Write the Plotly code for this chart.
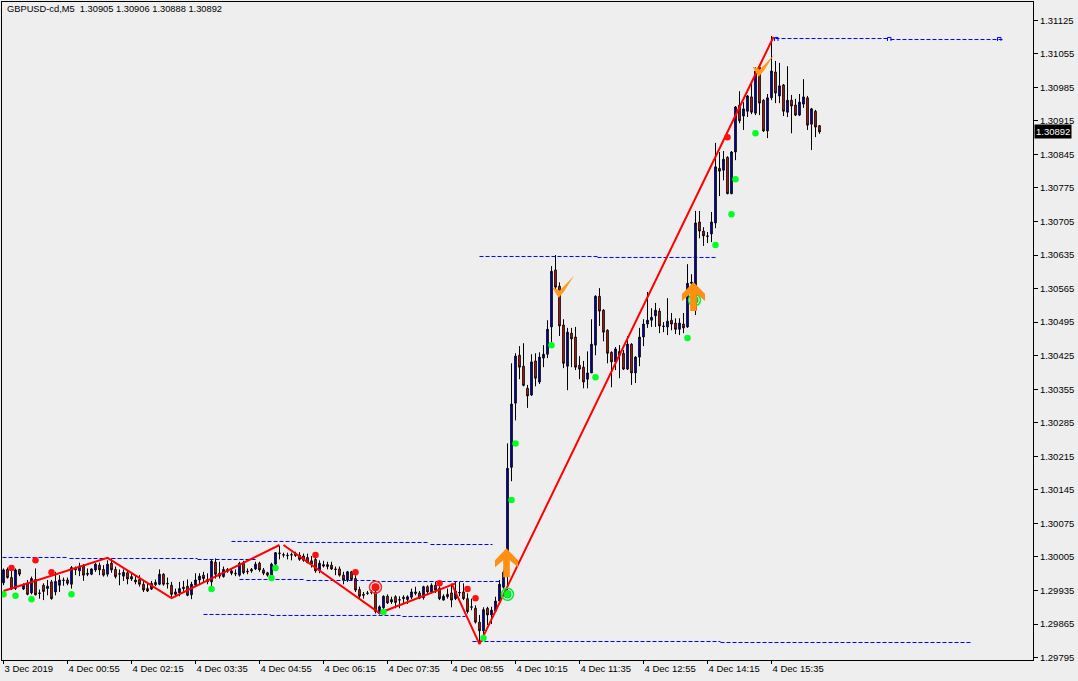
import plotly.graph_objects as go

# ---------- candles (price) ----------
opens = [
1.29951,1.29979,1.29962,1.29939,1.29979,1.29938,1.29950,1.29930,1.29958,1.29930,
1.29946,1.29939,1.29953,1.29932,1.29946,1.29957,1.29957,1.29948,1.29982,1.29976,
1.29986,1.29971,1.29969,1.29978,1.29988,1.29979,1.29969,1.29992,1.29979,1.29969,
1.29965,1.29972,1.29964,1.29957,1.29958,1.29948,1.29939,1.29938,1.29952,1.29948,
1.29969,1.29950,1.29946,1.29932,1.29930,1.29942,1.29944,1.29926,1.29946,1.29957,
1.29967,1.29958,1.29953,1.29994,1.29971,1.29964,1.29979,1.29976,1.29971,1.29967,
1.29992,1.29974,1.29979,1.29980,1.29992,1.29978,1.29972,1.29967,1.29990,1.30012,
1.30010,1.30009,1.30010,1.30012,1.30009,1.30007,1.30004,1.29997,1.30000,1.29978,
1.29989,1.29989,1.29988,1.29980,1.29980,1.29967,1.29957,1.29974,1.29960,1.29937,
1.29927,1.29930,1.29932,1.29932,1.29887,1.29899,1.29923,1.29911,1.29922,1.29916,
1.29921,1.29916,1.29921,1.29932,1.29930,1.29920,1.29943,1.29932,1.29946,1.29940,
1.29915,1.29927,1.29930,1.29918,1.29930,1.29932,1.29918,1.29900,1.29898,1.29869,
1.29851,1.29898,1.29884,1.29892,1.29913,1.29942,1.29967,1.30192,1.30326,1.30426,
1.30403,1.30357,1.30343,1.30414,1.30370,1.30420,1.30428,1.30485,1.30604,1.30570,
1.30489,1.30403,1.30472,1.30464,1.30405,1.30401,1.30376,1.30389,1.30447,1.30549,
1.30520,1.30478,1.30432,1.30412,1.30426,1.30430,1.30397,1.30449,1.30389,1.30422,
1.30464,1.30491,1.30499,1.30508,1.30518,1.30487,1.30485,1.30499,1.30493,1.30480,
1.30491,1.30485,1.30576,1.30520,1.30704,1.30685,1.30675,1.30679,1.30702,1.30816,
1.30812,1.30839,1.30763,1.30850,1.30948,1.30925,1.30935,1.30965,1.30931,1.31027,
1.30958,1.30894,1.30963,1.31017,1.30967,1.30990,1.30933,1.30958,1.30948,1.30927,
1.30950,1.30963,1.30908,1.30935,1.30905]
highs = [
1.29981,1.29983,1.29981,1.29981,1.29980,1.29950,1.29957,1.29964,1.29981,1.29937,
1.29950,1.29957,1.29957,1.29974,1.29967,1.29962,1.29962,1.29986,1.29985,1.29993,
1.29990,1.29981,1.29981,1.29993,1.29993,1.29988,1.29998,1.30002,1.29985,1.29979,
1.29979,1.29978,1.29972,1.29967,1.29967,1.29957,1.29950,1.29955,1.29958,1.29979,
1.29971,1.29962,1.29953,1.29939,1.29953,1.29955,1.29958,1.29953,1.29971,1.29971,
1.29974,1.29971,1.30000,1.30002,1.29995,1.29985,1.29982,1.29981,1.29979,1.29995,
1.29997,1.29981,1.29982,1.29995,1.29995,1.29982,1.29974,1.29993,1.30015,1.30028,
1.30014,1.30014,1.30014,1.30016,1.30015,1.30012,1.30012,1.30007,1.30007,1.29998,
1.29997,1.29995,1.29995,1.29985,1.29985,1.29974,1.29976,1.29976,1.29967,1.29943,
1.29932,1.29934,1.29936,1.29939,1.29904,1.29925,1.29927,1.29922,1.29925,1.29923,
1.29925,1.29925,1.29939,1.29943,1.29934,1.29945,1.29946,1.29950,1.29953,1.29944,
1.29927,1.29939,1.29946,1.29953,1.29953,1.29950,1.29929,1.29918,1.29904,1.29884,
1.29900,1.29901,1.29901,1.29922,1.29957,1.29978,1.30242,1.30409,1.30430,1.30445,
1.30451,1.30364,1.30428,1.30430,1.30432,1.30447,1.30499,1.30612,1.30635,1.30578,
1.30501,1.30483,1.30483,1.30485,1.30424,1.30414,1.30434,1.30501,1.30551,1.30566,
1.30522,1.30480,1.30434,1.30443,1.30447,1.30437,1.30466,1.30451,1.30424,1.30483,
1.30501,1.30558,1.30524,1.30535,1.30524,1.30495,1.30545,1.30514,1.30503,1.30503,
1.30514,1.30616,1.30595,1.30727,1.30727,1.30693,1.30683,1.30725,1.30869,1.30850,
1.30852,1.30841,1.30852,1.30946,1.30977,1.30954,1.30969,1.30994,1.31027,1.31029,
1.30960,1.30971,1.31092,1.31040,1.31036,1.30992,1.31029,1.30969,1.30961,1.30971,
1.31002,1.30967,1.30942,1.30938,1.30906]
lows = [
1.29946,1.29960,1.29936,1.29936,1.29965,1.29936,1.29925,1.29927,1.29925,1.29918,
1.29915,1.29925,1.29916,1.29925,1.29932,1.29945,1.29946,1.29939,1.29967,1.29965,
1.29955,1.29965,1.29967,1.29974,1.29967,1.29964,1.29964,1.29972,1.29960,1.29946,
1.29955,1.29948,1.29955,1.29948,1.29943,1.29932,1.29932,1.29936,1.29944,1.29946,
1.29945,1.29939,1.29921,1.29921,1.29923,1.29932,1.29923,1.29917,1.29943,1.29948,
1.29951,1.29948,1.29944,1.29960,1.29960,1.29962,1.29972,1.29967,1.29965,1.29964,
1.29969,1.29969,1.29972,1.29978,1.29974,1.29967,1.29964,1.29964,1.29985,1.30000,
1.30004,1.30000,1.29998,1.30005,1.29997,1.29995,1.29992,1.29983,1.29972,1.29971,
1.29983,1.29979,1.29978,1.29967,1.29964,1.29948,1.29953,1.29955,1.29932,1.29918,
1.29918,1.29926,1.29927,1.29887,1.29885,1.29894,1.29907,1.29907,1.29898,1.29898,
1.29908,1.29907,1.29917,1.29925,1.29917,1.29916,1.29927,1.29929,1.29930,1.29915,
1.29914,1.29918,1.29900,1.29915,1.29923,1.29915,1.29887,1.29894,1.29866,1.29828,
1.29842,1.29863,1.29865,1.29892,1.29908,1.29939,1.29936,1.30163,1.30290,1.30376,
1.30361,1.30316,1.30341,1.30361,1.30366,1.30401,1.30420,1.30451,1.30558,1.30466,
1.30399,1.30353,1.30401,1.30395,1.30376,1.30357,1.30357,1.30389,1.30426,1.30487,
1.30455,1.30409,1.30359,1.30395,1.30378,1.30395,1.30395,1.30364,1.30368,1.30403,
1.30445,1.30483,1.30485,1.30485,1.30472,1.30474,1.30468,1.30478,1.30470,1.30468,
1.30472,1.30483,1.30558,1.30510,1.30670,1.30654,1.30660,1.30662,1.30691,1.30758,
1.30791,1.30762,1.30762,1.30833,1.30910,1.30896,1.30923,1.30929,1.30927,1.30927,
1.30892,1.30879,1.30958,1.30952,1.30952,1.30925,1.30923,1.30889,1.30925,1.30925,
1.30942,1.30896,1.30854,1.30881,1.30888]
closes = [
1.29978,1.29962,1.29938,1.29978,1.29969,1.29946,1.29927,1.29960,1.29926,1.29929,
1.29933,1.29944,1.29918,1.29954,1.29957,1.29956,1.29950,1.29983,1.29978,1.29986,
1.29967,1.29969,1.29980,1.29990,1.29978,1.29967,1.29990,1.29978,1.29964,1.29970,
1.29973,1.29959,1.29959,1.29953,1.29948,1.29936,1.29934,1.29950,1.29947,1.29969,
1.29948,1.29949,1.29927,1.29927,1.29939,1.29939,1.29925,1.29948,1.29957,1.29965,
1.29960,1.29953,1.29996,1.29969,1.29965,1.29979,1.29975,1.29971,1.29970,1.29992,
1.29972,1.29975,1.29976,1.29990,1.29978,1.29971,1.29967,1.29990,1.30014,1.30013,
1.30009,1.30008,1.30009,1.30008,1.30000,1.29998,1.29993,1.29990,1.29976,1.29992,
1.29986,1.29985,1.29980,1.29979,1.29967,1.29957,1.29974,1.29958,1.29936,1.29923,
1.29925,1.29929,1.29931,1.29891,1.29901,1.29923,1.29909,1.29916,1.29910,1.29915,
1.29918,1.29922,1.29932,1.29929,1.29919,1.29943,1.29932,1.29946,1.29936,1.29918,
1.29923,1.29922,1.29915,1.29934,1.29931,1.29918,1.29891,1.29901,1.29869,1.29851,
1.29895,1.29884,1.29894,1.29913,1.29948,1.29973,1.30190,1.30324,1.30424,1.30401,
1.30363,1.30341,1.30412,1.30378,1.30422,1.30428,1.30480,1.30601,1.30568,1.30487,
1.30409,1.30474,1.30460,1.30401,1.30397,1.30370,1.30389,1.30449,1.30549,1.30518,
1.30474,1.30430,1.30412,1.30439,1.30434,1.30397,1.30449,1.30389,1.30422,1.30464,
1.30491,1.30499,1.30505,1.30520,1.30487,1.30486,1.30497,1.30491,1.30480,1.30493,
1.30483,1.30576,1.30578,1.30702,1.30685,1.30675,1.30674,1.30704,1.30819,1.30810,
1.30835,1.30763,1.30850,1.30944,1.30915,1.30940,1.30967,1.30933,1.31019,1.30952,
1.30894,1.30963,1.31019,1.30973,1.30988,1.30935,1.30958,1.30946,1.30927,1.30954,
1.30965,1.30906,1.30940,1.30902,1.30892]
bar_index = list(range(len(opens)))

# ---------- axes ----------
price_ticks = [1.29795,1.29865,1.29935,1.30005,1.30075,1.30145,1.30215,1.30285,1.30355,1.30425,
               1.30495,1.30565,1.30635,1.30705,1.30775,1.30845,1.30915,1.30985,1.31055,1.31125]
time_tick_bars = [0,16,32,48,64,80,96,112,128,144,160,176,192]
time_tick_labels = ["3 Dec 2019","4 Dec 00:55","4 Dec 02:15","4 Dec 03:35","4 Dec 04:55","4 Dec 06:15",
                    "4 Dec 07:35","4 Dec 08:55","4 Dec 10:15","4 Dec 11:35","4 Dec 12:55","4 Dec 14:15","4 Dec 15:35"]

# ---------- zigzag ----------
zig_a_x = [0,26,42,69];        zig_a_y = [1.29934,1.30003,1.29919,1.30030]
zig_b_x = [70,94,113];         zig_b_y = [1.30030,1.29888,1.29950]
zig_c_x = [112,119,192.5];     zig_c_y = [1.29950,1.29823,1.31090]

# ---------- horizontal levels: start bar, end bar, price ----------
lvl_start = [-0.25,16.5,48.5, 57,73.5,106.75, 59,75.75,93, 50,66.75,99.75, 117.25,179.25, 119,148.5, 193,221.75]
lvl_end   = [15.75,48.5,63.5, 73.5,106.25,122.25, 75.5,93,124, 66.75,99.25,115.5, 179.25,242.25, 148.5,178, 221.25,249.75]
lvl_price = [1.300039,1.300018,1.299997, 1.300373,1.300352,1.300310, 1.299580,1.299559,1.299538,
             1.298850,1.298829,1.298808, 1.298286,1.298265, 1.306320,1.306299, 1.310868,1.310847]
cap_x = [192.75,221,248.5];  cap_y = [1.31089,1.31089,1.31089]

# ---------- signals ----------
green_x = [0,3,7,17,52,67,68,95,120,126,127,128,137,148,171,178,182,183,188]
green_y = [1.29927,1.29924,1.29917,1.29927,1.29938,1.29961,1.29982,1.29890,1.29836,1.29927,
           1.30124,1.30242,1.30447,1.30380,1.30462,1.30656,1.30720,1.30793,1.30889]
red_x = [2,8,12,78,88,93,109,116,118,181]
red_y = [1.29982,1.29998,1.29973,1.30009,1.29973,1.29942,1.29950,1.29938,1.29919,1.30881]
ring_green_x = [126,172.75]; ring_green_y = [1.29927,1.30541]
ring_red_x = [93];           ring_red_y = [1.29942]
arrow_x = [125.75,172.5];    arrow_y = [1.30023,1.30579]     # tips
tick_x = [138.75,188.75];    tick_y = [1.30549,1.31010]      # vertex of the check marks
current_price = 1.30892
header = "GBPUSD-cd,M5  1.30905 1.30906 1.30888 1.30892"

# glyph outlines in screen pixels relative to the anchor
ARROW_PX = [(0,0),(11.5,12),(11.5,19),(3.3,12),(3.3,29),(-3.3,29),(-3.3,12),(-11.5,19),(-11.5,12),(0,0)]
CHECK_PX = [(-6,-8.5),(-1,-7),(1,-5.5),(15.5,-20.5),(5,-4),(0,1.5),(-6,-8.5)]
CAP_PX = [(0,3.5),(0,0),(3.5,0),(3.5,3.5)]
PX_X = 0.25; PX_Y = 0.00002087

BG = "#EEEEEE"
FONT = "Liberation Sans, sans-serif"

fig = go.Figure()
fig.add_trace(go.Candlestick(
    x=bar_index, open=opens, high=highs, low=lows, close=closes,
    increasing=dict(line=dict(color="#000000", width=1), fillcolor="#0000FF"),
    decreasing=dict(line=dict(color="#000000", width=1), fillcolor="#FF2010"),
    whiskerwidth=0, showlegend=False, hoverinfo="skip"))

for s, e, p in zip(lvl_start, lvl_end, lvl_price):
    fig.add_trace(go.Scatter(x=[s, e], y=[p, p], mode="lines",
                             line=dict(color="#0000FF", width=1, dash="4px,2px"),
                             showlegend=False, hoverinfo="skip"))
for cx, cy in zip(cap_x, cap_y):
    fig.add_trace(go.Scatter(x=[cx + dx * PX_X for dx, dy in CAP_PX],
                             y=[cy - dy * PX_Y for dx, dy in CAP_PX],
                             mode="lines", line=dict(color="#0000FF", width=1),
                             showlegend=False, hoverinfo="skip"))

for zx, zy in ((zig_a_x, zig_a_y), (zig_b_x, zig_b_y), (zig_c_x, zig_c_y)):
    fig.add_trace(go.Scatter(x=zx, y=zy, mode="lines", line=dict(color="#FF0000", width=2),
                             showlegend=False, hoverinfo="skip"))

fig.add_trace(go.Scatter(x=ring_green_x, y=ring_green_y, mode="markers",
                         marker=dict(symbol="circle-open", size=12, color="#00EE33", line=dict(width=1.5, color="#00EE33")),
                         showlegend=False, hoverinfo="skip"))
fig.add_trace(go.Scatter(x=ring_red_x, y=ring_red_y, mode="markers",
                         marker=dict(symbol="circle-open", size=12, color="#F03030", line=dict(width=1.5, color="#F03030")),
                         showlegend=False, hoverinfo="skip"))
fig.add_trace(go.Scatter(x=ring_green_x, y=ring_green_y, mode="markers",
                         marker=dict(size=8, color="#10C030", line=dict(width=0)),
                         showlegend=False, hoverinfo="skip"))
fig.add_trace(go.Scatter(x=ring_red_x, y=ring_red_y, mode="markers",
                         marker=dict(size=8, color="#F01010", line=dict(width=0)),
                         showlegend=False, hoverinfo="skip"))
fig.add_trace(go.Scatter(x=green_x, y=green_y, mode="markers",
                         marker=dict(size=6.5, color="#00FF22", line=dict(width=0)),
                         showlegend=False, hoverinfo="skip"))
fig.add_trace(go.Scatter(x=red_x, y=red_y, mode="markers",
                         marker=dict(size=6.5, color="#FF1010", line=dict(width=0)),
                         showlegend=False, hoverinfo="skip"))

for ax, ay in zip(arrow_x, arrow_y):
    fig.add_trace(go.Scatter(x=[ax + dx * PX_X for dx, dy in ARROW_PX],
                             y=[ay - dy * PX_Y for dx, dy in ARROW_PX],
                             mode="lines", fill="toself", fillcolor="#FF8F11",
                             line=dict(width=0, color="#FF8F11"), showlegend=False, hoverinfo="skip"))
for cx, cy in zip(tick_x, tick_y):
    fig.add_trace(go.Scatter(x=[cx + dx * PX_X for dx, dy in CHECK_PX],
                             y=[cy - dy * PX_Y for dx, dy in CHECK_PX],
                             mode="lines", fill="toself", fillcolor="#FF9A1F",
                             line=dict(width=0, color="#FF9A1F"), showlegend=False, hoverinfo="skip"))

fig.add_annotation(xref="paper", yref="paper", x=0.003, y=1.0, xanchor="left", yanchor="top",
                   text=header, showarrow=False, font=dict(family=FONT, size=9.3, color="#000000"))
fig.add_annotation(xref="paper", x=1.0005, y=current_price, xanchor="left", yanchor="middle",
                   text=f"{current_price:.5f}", showarrow=False, bgcolor="#000000", borderpad=1,
                   font=dict(family=FONT, size=9.5, color="#FFFFFF"))

fig.update_layout(
    width=1078, height=681, margin=dict(l=2, r=45, t=2, b=21, pad=0, autoexpand=False),
    paper_bgcolor=BG, plot_bgcolor=BG, showlegend=False, hovermode=False, boxgap=0.42,
    font=dict(family=FONT, size=9.5, color="#000000"),
    xaxis=dict(range=[-0.375, 257.375], rangeslider=dict(visible=False), showgrid=False, zeroline=False,
               tickmode="array", tickvals=time_tick_bars, ticktext=time_tick_labels,
               ticks="outside", ticklen=3, tickwidth=1, tickcolor="#000000",
               ticklabelposition="outside right", tickangle=0, automargin=False,
               showline=True, linecolor="#000000", linewidth=1, mirror=True),
    yaxis=dict(range=[1.29790, 1.31163], side="right", showgrid=False, zeroline=False, automargin=False,
               tickmode="array", tickvals=price_ticks, ticktext=[f"{v:.5f}" for v in price_ticks],
               ticks="outside", ticklen=4, tickwidth=1, tickcolor="#000000",
               showline=True, linecolor="#000000", linewidth=1, mirror=True),
)
fig.write_html("out.html", config={"displayModeBar": False},
               post_script="document.body.style.margin='0';document.body.style.background='#EEEEEE';document.documentElement.style.overflow='hidden';")
